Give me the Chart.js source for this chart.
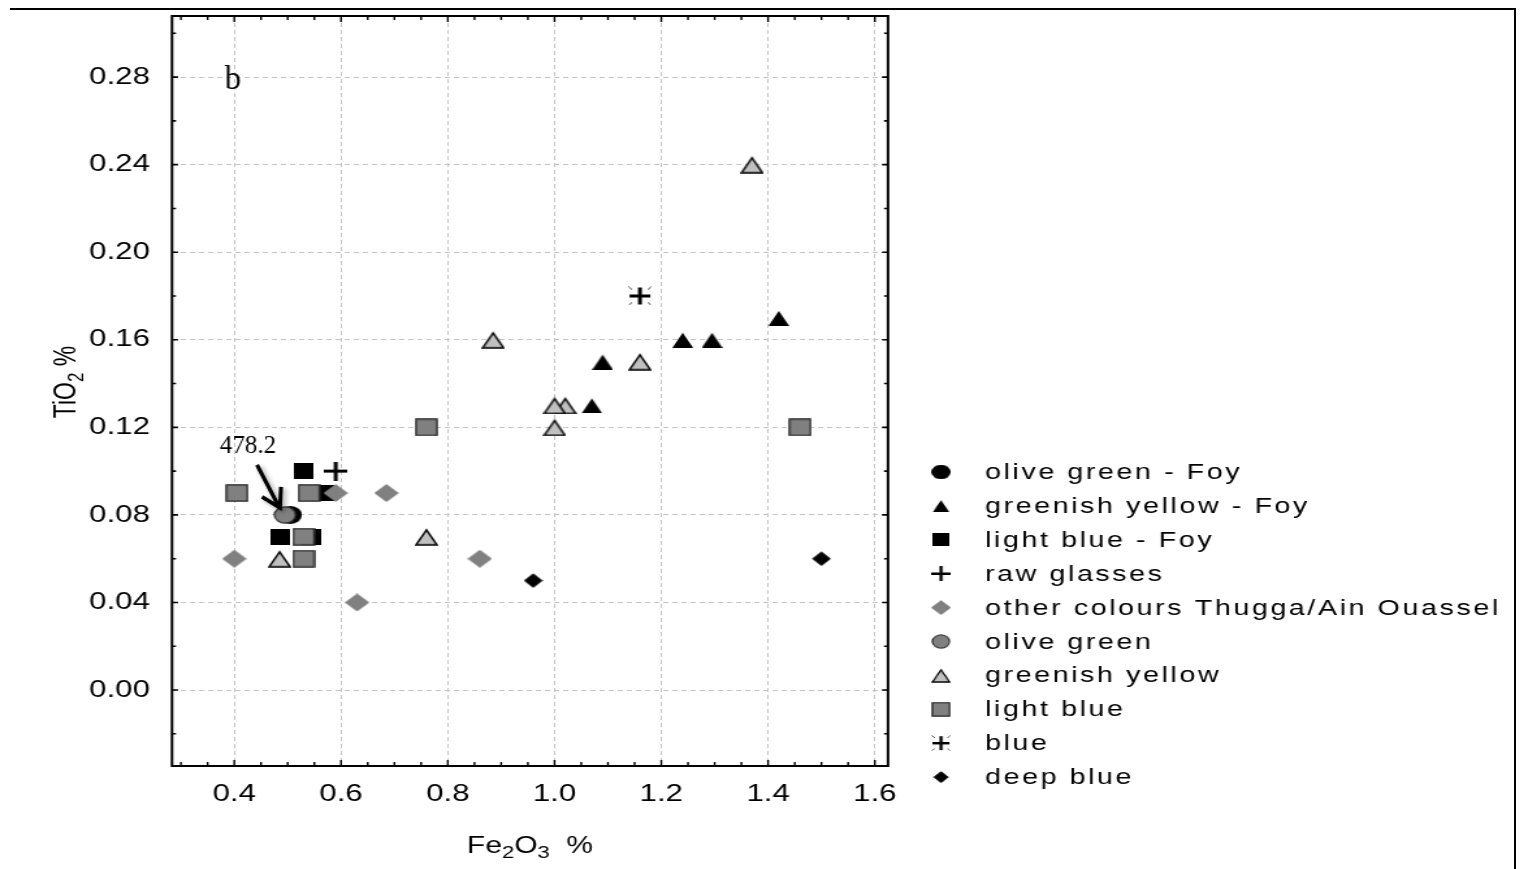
<!DOCTYPE html>
<html>
<head>
<meta charset="utf-8">
<script src="https://cdn.jsdelivr.net/npm/chart.js@4.4.1/dist/chart.umd.min.js"></script>
<style>
  html, body { margin: 0; padding: 0; background: #fff; overflow: hidden; }
  #wrap { position: relative; width: 1528px; height: 869px; }
  #chart { position: absolute; left: 0; top: 0; transform-origin: 0 0; }
  .rule { position: absolute; background: #000; }
</style>
</head>
<body>
<div id="wrap">
  <canvas id="chart" width="1175" height="869"></canvas>
  <div class="rule" style="left:10px;top:8px;width:1506px;height:2px"></div>
  <div class="rule" style="left:1514px;top:8px;width:2px;height:861px"></div>
</div>
<script>
// TiO2 vs Fe2O3 scatter (panel b)

const seriesLabels = [
  'olive green - Foy', 'greenish yellow - Foy', 'light blue - Foy', 'raw glasses',
  'other colours Thugga/Ain Ouassel', 'olive green', 'greenish yellow', 'light blue',
  'blue', 'deep blue'
];

// [Fe2O3 %, TiO2 %]
const oliveGreenFoy = [[0.505, 0.08]];
const greenishYellowFoy = [[1.07, 0.13], [1.09, 0.15], [1.24, 0.16], [1.295, 0.16], [1.42, 0.17]];
const lightBlueFoy = [[0.53, 0.10], [0.485, 0.07], [0.545, 0.07], [0.57, 0.09]];
const rawGlasses = [[0.59, 0.10]];
const otherColours = [[0.40, 0.06], [0.59, 0.09], [0.685, 0.09], [0.63, 0.04], [0.86, 0.06]];
const oliveGreen = [[0.495, 0.08]];
const greenishYellow = [[0.485, 0.06], [0.76, 0.07], [0.885, 0.16], [1.0, 0.12], [1.02, 0.13], [1.0, 0.13], [1.16, 0.15], [1.37, 0.24]];
const lightBlue = [[0.405, 0.09], [0.54, 0.09], [0.53, 0.07], [0.53, 0.06], [0.76, 0.12], [1.46, 0.12]];
const blue = [[1.16, 0.18]];
const deepBlue = [[0.96, 0.05], [1.50, 0.06]];

const xTicks = [0.4, 0.6, 0.8, 1.0, 1.2, 1.4, 1.6];
const yTicks = [0.00, 0.04, 0.08, 0.12, 0.16, 0.20, 0.24, 0.28];

// the figure is stretched sideways, so the canvas is drawn narrow and scaled up
const STRETCH = 1528 / 1175;
const sx = v => v / STRETCH;
document.getElementById('chart').style.transform = `scaleX(${STRETCH})`;

function makeMarker(shape, w, h, fill, stroke, lw) {
  const c = document.createElement('canvas');
  c.width = w; c.height = h;
  const g = c.getContext('2d');
  const p = lw ? lw / 2 + 0.3 : 0;
  g.beginPath();
  if (shape === 'square') g.rect(p, p, w - 2 * p, h - 2 * p);
  else if (shape === 'triangle') { g.moveTo(w / 2, p + 1); g.lineTo(w - p, h - p); g.lineTo(p, h - p); g.closePath(); }
  else if (shape === 'diamond') { g.moveTo(w / 2, p); g.lineTo(w - p, h / 2); g.lineTo(w / 2, h - p); g.lineTo(p, h / 2); g.closePath(); }
  else if (shape === 'circle') g.ellipse(w / 2, h / 2, w / 2 - p, h / 2 - p, 0, 0, Math.PI * 2);
  g.fillStyle = fill;
  g.fill();
  if (lw) {
    g.lineWidth = lw;
    g.strokeStyle = stroke;
    g.lineJoin = shape === 'diamond' ? 'round' : 'miter';
    g.stroke();
  }
  return c;
}

function makeCross(w, h, thick, star) {
  const c = document.createElement('canvas');
  c.width = w; c.height = h;
  const g = c.getContext('2d');
  g.fillStyle = '#000';
  g.fillRect((w - thick) / 2, star ? 1 : 0, thick, star ? h - 2 : h);
  g.fillRect(star ? 1 : 0, (h - thick) / 2, star ? w - 2 : w, thick);
  if (star) {
    g.strokeStyle = '#333';
    g.lineWidth = 1;
    const cx = w / 2, cy = h / 2;
    [[-1, -1], [1, -1], [-1, 1], [1, 1]].forEach(([a, b]) => {
      g.beginPath();
      g.moveTo(cx + a * (w / 2 - 0.5), cy + b * (h / 2 - 0.5));
      g.lineTo(cx + a * (w / 2 - 3), cy + b * (h / 2 - 3));
      g.stroke();
    });
  }
  return c;
}

const markers = [
  makeMarker('circle', 18, 18, '#000', null, 0),
  makeMarker('triangle', 16, 16, '#000', null, 0),
  makeMarker('square', 15, 16, '#000', null, 0),
  makeCross(18, 19, 3, false),
  makeMarker('diamond', 19, 18, '#808080', '#808080', 1.5),
  makeMarker('circle', 18, 18, '#808080', '#333', 1.3),
  makeMarker('triangle', 18, 18, '#c0c0c0', '#000', 1.5),
  makeMarker('square', 18, 18, '#808080', '#222', 1.3),
  makeCross(18, 19, 3, true),
  makeMarker('diamond', 15, 15, '#000', '#000', 1),
];

const seriesData = [oliveGreenFoy, greenishYellowFoy, lightBlueFoy, rawGlasses, otherColours,
  oliveGreen, greenishYellow, lightBlue, blue, deepBlue];

const SANS = '"Liberation Sans", Arial, sans-serif';
const SERIF = '"Liberation Serif", "Times New Roman", serif';

function drawRich(ctx, parts, x, y, size) {
  let total = 0;
  parts.forEach(p => {
    ctx.font = `${p.sub ? Math.round(size * 0.72) : size}px ${SANS}`;
    total += ctx.measureText(p.t).width;
  });
  let cx = x - total / 2;
  ctx.textAlign = 'left';
  ctx.textBaseline = 'alphabetic';
  parts.forEach(p => {
    ctx.font = `${p.sub ? Math.round(size * 0.72) : size}px ${SANS}`;
    ctx.fillText(p.t, cx, y + (p.sub ? size * 0.22 : 0));
    cx += ctx.measureText(p.t).width;
  });
}

const decorations = {
  id: 'decorations',
  afterDraw(chart) {
    const ctx = chart.ctx;
    const a = chart.chartArea;
    const xs = chart.scales.x, ys = chart.scales.y;
    ctx.save();

    // frame box
    ctx.strokeStyle = '#000';
    ctx.lineWidth = 2;
    ctx.strokeRect(a.left, a.top, a.right - a.left, a.bottom - a.top);

    // inward ticks, major and minor, on all four sides
    ctx.lineWidth = 1.4;
    ctx.beginPath();
    for (let v = 0.3; v <= xs.max + 1e-9; v += 0.05) {
      const px = xs.getPixelForValue(v);
      const major = xTicks.some(t => Math.abs(t - v) < 1e-6);
      const len = major ? 6 : 4;
      ctx.moveTo(px, a.bottom); ctx.lineTo(px, a.bottom - len);
      ctx.moveTo(px, a.top); ctx.lineTo(px, a.top + len);
    }
    ctx.stroke();
    ctx.lineWidth = 1.6;
    ctx.beginPath();
    for (let v = -0.02; v <= ys.max + 1e-9; v += 0.02) {
      const py = ys.getPixelForValue(v);
      const major = yTicks.some(t => Math.abs(t - v) < 1e-6);
      const len = sx(major ? 6 : 4);
      ctx.moveTo(a.left, py); ctx.lineTo(a.left + len, py);
      ctx.moveTo(a.right, py); ctx.lineTo(a.right - len, py);
    }
    ctx.stroke();

    // axis titles
    ctx.fillStyle = '#000';
    drawRich(ctx, [{ t: 'Fe' }, { t: '2', sub: true }, { t: 'O' }, { t: '3', sub: true }, { t: '  %' }], sx(530), 853, 23);
    ctx.save();
    ctx.translate(sx(76), 382);
    ctx.rotate(-Math.PI / 2);
    drawRich(ctx, [{ t: 'TiO' }, { t: '2', sub: true }, { t: ' %' }], 0, 0, 23);
    ctx.restore();

    // legend
    const rowY = i => 472 + i * 33.9;
    ctx.textAlign = 'left';
    ctx.textBaseline = 'middle';
    ctx.font = `22px ${SANS}`;
    ctx.letterSpacing = '2px';
    seriesLabels.forEach((label, i) => {
      const m = markers[i];
      const k = 0.82;
      ctx.drawImage(m, sx(941) - m.width * k / 2, rowY(i) - m.height * k / 2, m.width * k, m.height * k);
      ctx.fillText(label, sx(985), rowY(i) + 1);
    });
    ctx.letterSpacing = '0px';

    // unstretched annotations
    ctx.save();
    ctx.scale(1 / STRETCH, 1);
    ctx.fillStyle = '#000';
    ctx.textAlign = 'center';
    ctx.textBaseline = 'middle';
    ctx.font = `33px ${SERIF}`;
    ctx.fillText('b', a.left * STRETCH + 61, a.top + 64);

    const ox = xs.getPixelForValue(oliveGreen[0][0]) * STRETCH;
    const oy = ys.getPixelForValue(oliveGreen[0][1]);
    ctx.font = `25px ${SERIF}`;
    ctx.fillText('478.2', ox - 37, oy - 68);
    ctx.shadowColor = 'rgba(0,0,0,0.35)';
    ctx.shadowBlur = 4;
    ctx.shadowOffsetX = 2;
    ctx.shadowOffsetY = 2;
    ctx.strokeStyle = '#000';
    ctx.lineWidth = 4;
    ctx.lineCap = 'butt';
    ctx.lineJoin = 'miter';
    ctx.beginPath();
    ctx.moveTo(ox - 28, oy - 50);
    ctx.lineTo(ox - 6, oy - 8);
    ctx.moveTo(ox - 23, oy - 18);
    ctx.lineTo(ox - 5, oy - 7);
    ctx.lineTo(ox - 4, oy - 28);
    ctx.stroke();
    ctx.restore();

    ctx.restore();
  }
};

new Chart(document.getElementById('chart'), {
  type: 'scatter',
  data: {
    datasets: seriesLabels.map((label, i) => ({
      label,
      data: seriesData[i].map(([x, y]) => ({ x, y })),
      pointStyle: markers[i],
      pointRadius: 10,
      pointHoverRadius: 10,
      order: seriesLabels.length - i,
      showLine: false
    }))
  },
  options: {
    responsive: false,
    animation: false,
    events: [],
    layout: { autoPadding: false, padding: { left: 0, top: 16, right: 1175 - sx(888), bottom: 0 } },
    plugins: { legend: { display: false }, tooltip: { enabled: false } },
    scales: {
      x: {
        type: 'linear',
        min: 0.2833,
        max: 1.6247,
        afterBuildTicks: s => { s.ticks = xTicks.map(v => ({ value: v })); },
        afterFit: s => { s.height = 869 - 766; s.paddingLeft = 0; s.paddingRight = 0; },
        ticks: { padding: 14, color: '#000', font: { family: SANS, size: 24 }, callback: v => v.toFixed(1) },
        grid: { color: '#c4c4c4', lineWidth: 1, drawTicks: false },
        border: { display: false, dash: [4, 3] }
      },
      y: {
        type: 'linear',
        min: -0.0347,
        max: 0.3079,
        afterBuildTicks: s => { s.ticks = yTicks.map(v => ({ value: v })); },
        afterFit: s => { s.width = sx(172); s.paddingTop = 0; s.paddingBottom = 0; },
        ticks: { padding: 17, color: '#000', font: { family: SANS, size: 24 }, callback: v => v.toFixed(2) },
        grid: { color: '#c4c4c4', lineWidth: 1, drawTicks: false },
        border: { display: false, dash: [4, 3] }
      }
    }
  },
  plugins: [decorations]
});
</script>
</body>
</html>
